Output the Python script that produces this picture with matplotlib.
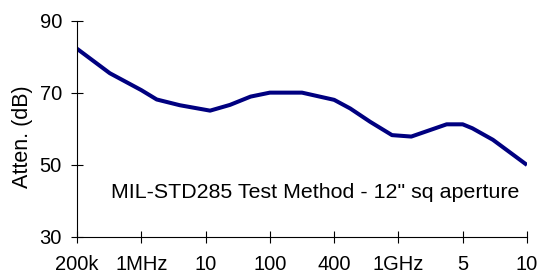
import matplotlib
matplotlib.use("Agg")
import matplotlib.pyplot as plt

# category axis labels (frequency)
TICK_LABELS = ["200k", "1MHz", "10", "100", "400", "1GHz", "5", "10"]

# curve: position on the category axis, attenuation in dB
CURVE_X = [0.0, 0.51, 1.0, 1.24, 1.6, 2.07, 2.38, 2.7, 3.0, 3.5, 4.0, 4.25, 4.56,
           4.9, 5.2, 5.75, 6.0, 6.15, 6.47, 7.0]
CURVE_DB = [82.3, 75.5, 70.8, 68.2, 66.6, 65.1, 66.7, 69.0, 70.1, 70.1, 68.1, 65.7, 62.0,
            58.3, 57.9, 61.3, 61.3, 60.2, 57.0, 50.0]

Y_TICKS = [30, 50, 70, 90]
NOTE = "MIL-STD285 Test Method - 12\" sq aperture"

plt.rcParams["font.family"] = ["Liberation Sans", "DejaVu Sans"]

fig = plt.figure(figsize=(5.44, 2.78), dpi=100)
ax = fig.add_axes([77 / 544, 1 - 237 / 278, (527 - 77) / 544, (237 - 21) / 278])

ax.plot(CURVE_X, CURVE_DB, color="#000080", lw=2.9, solid_joinstyle="round",
        solid_capstyle="butt")

ax.set_xlim(0, len(TICK_LABELS) - 1)
ax.set_ylim(30, 90)
ax.set_xticks(range(len(TICK_LABELS)))
ax.set_xticklabels(TICK_LABELS)
ax.set_yticks(Y_TICKS)

for s in ("top", "right"):
    ax.spines[s].set_visible(False)
for s in ("left", "bottom"):
    ax.spines[s].set_linewidth(0.8)
    ax.spines[s].set_color("black")

ax.tick_params(axis="both", direction="inout", length=8.6, width=0.8,
               labelsize=14.5, colors="black")
ax.tick_params(axis="y", pad=6.5)
ax.tick_params(axis="x", pad=9)

ax.set_ylabel("Atten. (dB)", fontsize=15.5)
ax.yaxis.set_label_coords(-0.098, 0.463)

ax.text(0.53, 0.204, NOTE, transform=ax.transAxes, fontsize=15.4,
        ha="center", va="center")

fig.savefig("out.png", dpi=100)
